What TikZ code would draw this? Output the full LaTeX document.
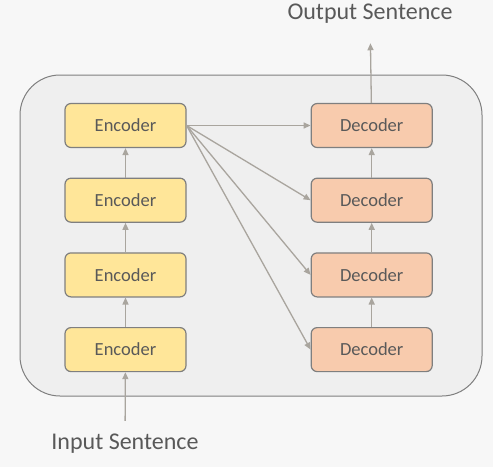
\documentclass[tikz,border=0pt]{standalone}
\usepackage{fontspec}
\setmainfont{Carlito}
\usetikzlibrary{positioning,arrows.meta}
\definecolor{encfill}{HTML}{FFE699}
\definecolor{decfill}{HTML}{F8CBAD}
\definecolor{boxline}{HTML}{7F7F7F}
\definecolor{txt}{HTML}{595959}
\definecolor{conn}{HTML}{A9A59E}
\definecolor{panel}{HTML}{EFEFEF}
\definecolor{bg}{HTML}{F7F7F7}
\begin{document}
\begin{tikzpicture}[x=1pt,y=-1pt,
    blk/.style={draw=boxline,line width=1.2pt,rounded corners=6pt,minimum width=121pt,minimum height=44pt,inner sep=0pt,text=txt,font=\fontsize{18.5}{22}\selectfont},
    enc/.style={blk,fill=encfill},
    dec/.style={blk,fill=decfill},
    arr/.style={draw=conn,line width=1.3pt,-{Triangle[length=7pt,width=6pt]}},
    lbl/.style={text=txt,font=\fontsize{24}{29}\selectfont},
    node distance=29.5pt and 124pt]
  \fill[bg] (0,0) rectangle (493,467);
  \draw[fill=panel,draw=boxline,line width=1pt,rounded corners=40pt] (20,75) rectangle (482,396);

  \node[enc] (e1) at (125.5,125.5) {Encoder};
  \node[enc,below=of e1] (e2) {Encoder};
  \node[enc,below=of e2] (e3) {Encoder};
  \node[enc,below=of e3] (e4) {Encoder};

  \node[dec,right=of e1] (d1) {Decoder};
  \node[dec,below=of d1] (d2) {Decoder};
  \node[dec,below=of d2] (d3) {Decoder};
  \node[dec,below=of d3] (d4) {Decoder};

  \node[lbl] (inp) at (125,444) {Input Sentence};
  \node[lbl] (out) at (370,14) {Output Sentence};

  \draw[arr,shorten <=10pt] (inp) -- (e4);
  \draw[arr] (e4) -- (e3);
  \draw[arr] (e3) -- (e2);
  \draw[arr] (e2) -- (e1);
  \draw[arr] (d4) -- (d3);
  \draw[arr] (d3) -- (d2);
  \draw[arr] (d2) -- (d1);
  \draw[arr,shorten >=16pt] (d1) -- (out);
  \foreach \i in {1,...,4}
    \draw[arr] (e1.east) -- (d\i.west);
\end{tikzpicture}
\end{document}
